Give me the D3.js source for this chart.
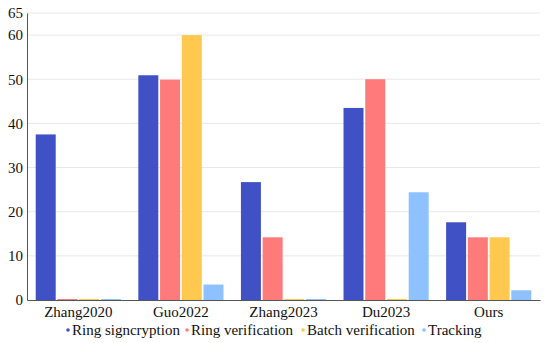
<!DOCTYPE html>
<html>
<head>
<meta charset="utf-8">
<script src="https://cdn.jsdelivr.net/npm/d3@7"></script>
<style>
	body { margin: 0; background: #fff; }
	svg text { font-family: 'Liberation Serif', 'Times New Roman', serif; fill: #111; }
</style>
</head>
<body>
<div id="chart"></div>
<script>
// values
var schemes = ['Zhang2020', 'Guo2022', 'Zhang2023', 'Du2023', 'Ours'];
var series = ['Ring signcryption', 'Ring verification', 'Batch verification', 'Tracking'];
var ringSigncryption = [37.5, 50.9, 26.7, 43.5, 17.6];
var ringVerification = [0, 49.9, 14.2, 50, 14.2];
var batchVerification = [0, 60, 0, 0, 14.2];
var tracking = [0, 3.5, 0, 24.4, 2.2];
var yTicks = [0, 10, 20, 30, 40, 50, 60, 65];
var colors = ['#3f51c5', '#ff7b7b', '#ffc84f', '#8ec1ff'];

var values = [ringSigncryption, ringVerification, batchVerification, tracking];

var w = 550, h = 343;
var margin = {top: 13, right: 10, bottom: 43, left: 27};

var svg = d3.select('#chart')
	.append('svg')
	.attr('width', w)
	.attr('height', h);

var x0 = d3.scaleBand()
	.domain(schemes)
	.range([margin.left, w - margin.right])
	.paddingInner(0.17)
	.paddingOuter(0.085);
var x1 = d3.scaleBand()
	.domain(series)
	.range([0, x0.bandwidth()])
	.paddingInner(0.08);
var y = d3.scaleLinear()
	.domain([0, 65])
	.range([h - margin.bottom, margin.top]);

// gridlines
svg.append('g')
	.selectAll('line')
	.data(yTicks.filter(function(d) { return d > 0; }))
	.enter()
	.append('line')
	.attr('x1', margin.left)
	.attr('x2', w - margin.right)
	.attr('y1', function(d) { return y(d); })
	.attr('y2', function(d) { return y(d); })
	.attr('stroke', '#e8e8e8')
	.attr('stroke-width', 1);

// bars, zero values still leave a thin line on the baseline
var groups = svg.append('g')
	.selectAll('g')
	.data(schemes)
	.enter()
	.append('g')
	.attr('transform', function(d) { return 'translate(' + x0(d) + ',0)'; });

groups.selectAll('rect')
	.data(function(d, i) {
		return series.map(function(s, j) { return {s: s, j: j, v: values[j][i]}; });
	})
	.enter()
	.append('rect')
	.attr('x', function(d) { return x1(d.s); })
	.attr('width', x1.bandwidth())
	.attr('y', function(d) { return Math.min(y(d.v), y(0) - 1); })
	.attr('height', function(d) { return Math.max(y(0) - y(d.v), 1); })
	.attr('fill', function(d) { return colors[d.j]; });

// y axis
var yAxis = svg.append('g')
	.attr('transform', 'translate(' + margin.left + ',0)')
	.call(d3.axisLeft(y).tickValues(yTicks).tickSize(0).tickPadding(4));
yAxis.select('.domain').attr('stroke', '#555');
yAxis.selectAll('text').style('font-size', '15px');

// x axis
var xAxis = svg.append('g')
	.attr('transform', 'translate(0,' + y(0) + ')')
	.call(d3.axisBottom(x0).tickSize(0).tickPadding(6));
xAxis.select('.domain').attr('stroke', '#555');
xAxis.selectAll('text').style('font-size', '15px');

// legend
var legendX = [68, 187, 303, 424];
var legend = svg.append('g')
	.selectAll('g')
	.data(series)
	.enter()
	.append('g')
	.attr('transform', function(d, i) { return 'translate(' + legendX[i] + ',330)'; });
legend.append('circle')
	.attr('r', 1.8)
	.attr('fill', function(d, i) { return colors[i]; });
legend.append('text')
	.attr('x', 4)
	.attr('dy', '0.35em')
	.style('font-size', '15px')
	.text(function(d) { return d; });
</script>
</body>
</html>
